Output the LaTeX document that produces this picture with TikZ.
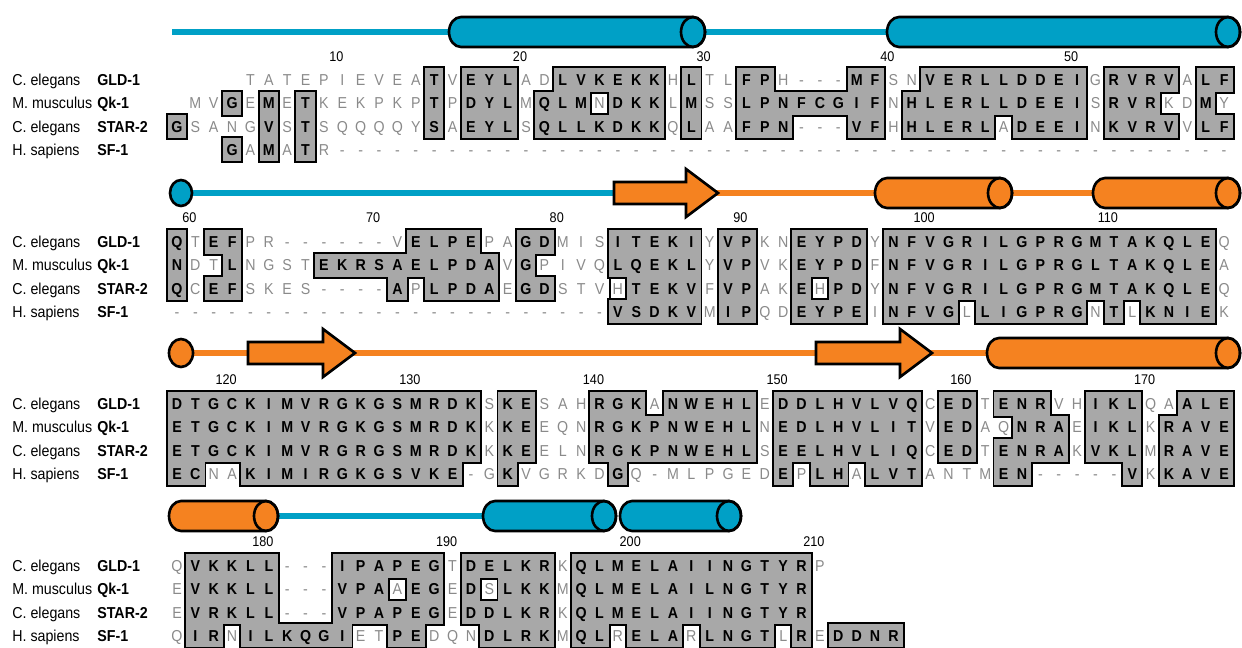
\documentclass[tikz,border=0pt]{standalone}
\usepackage{fontspec}
\setmainfont{Liberation Sans}[FakeStretch=0.9]
\definecolor{helixblue}{HTML}{00A0C6}
\definecolor{strandorange}{HTML}{F58220}
\definecolor{shadegrey}{HTML}{A8A8A8}
\definecolor{loosegrey}{HTML}{8A8A8A}

\tikzset{
  res/.style={font=\fontsize{9}{9}\selectfont\bfseries, inner sep=0pt, text height=6.5pt, text depth=0pt},
  loose/.style={font=\fontsize{9}{9}\selectfont, text=loosegrey, inner sep=0pt, text height=6.5pt, text depth=0pt},
  rim/.style={draw=black, line width=2.2pt},
  boxrim/.style={draw=black, line width=1.1pt},
  species/.style={font=\fontsize{9}{9}\selectfont, anchor=west, inner sep=0pt, text height=6.5pt, text depth=0pt},
  protein/.style={species, font=\fontsize{9}{9}\selectfont\bfseries},
  num/.style={font=\fontsize{8}{8}\selectfont, inner sep=0pt},
  helixline/.style={helixblue, line width=3pt},
  strandline/.style={strandorange, line width=3pt},
  ssrim/.style={draw=black, line width=1.5pt}
}

% one alignment row: id, y, residues (CAPS = boxed, small = plain, - = gap, . = empty)
\newcount\colno
\def\passno{0}
\newcommand\alignrow[3]{\colno=0 \def\rowid{#1}\def\rowy{#2}\readres#3\relax}
\def\readres#1{\ifx#1\relax\else\advance\colno by 1 \putres{#1}\expandafter\readres\fi}
\def\putres#1{%
  \ifnum`#1>96 \putlow{#1}\else
    \ifnum`#1>64 \putup{#1}\else
      \ifx#1-\putdash\fi
    \fi
  \fi}
\def\putup#1{%
  \pgfmathsetmacro\cx{177+(\the\colno-1)*18.37}%
  \ifcase\passno\relax
    \draw[rim] (\cx-9.185,\rowy-11.6) rectangle (\cx+9.185,\rowy+11.6);%
  \or
    \fill[shadegrey] (\cx-9.185,\rowy-11.6) rectangle (\cx+9.185,\rowy+11.6);%
  \or
    \node[res] (\rowid-\the\colno) at (\cx,\rowy) {#1};%
  \fi}
\def\putlow#1{%
  \ifnum\passno=2
    \pgfmathsetmacro\cx{177+(\the\colno-1)*18.37}%
    \node[loose] (\rowid-\the\colno) at (\cx,\rowy) {\uppercase{#1}};%
  \fi}
\def\putdash{%
  \ifnum\passno=2
    \pgfmathsetmacro\cx{177+(\the\colno-1)*18.37}%
    \node[loose] (\rowid-\the\colno) at (\cx,\rowy) {-};%
  \fi}

\newcommand\allrows{%
  % 1 - 58
  \alignrow{gldA}{80}{....tatepieveaTvEYLadLVKEKKhLtlFPh---MFsnVERLLDDEIgRVRVaLF}%
  \alignrow{qkA}{103.2}{.mvGeMeTkekpkpTpDYLmQLMnDKKlMssLPNFCGIFnHLERLLDEEIsRVRkdMy}%
  \alignrow{starA}{126.4}{GsangVsTsqqqqySaEYLsQLLKDKKqLaaFPN---VFhHLERLaDEEInKVRVvLF}%
  \alignrow{sfA}{149.6}{...GaMaTr-------------------------------------------------}%
  % 59 - 116
  \alignrow{gldB}{242}{QtEFpr------vELPEpaGDmisITEKIyVPknEYPDyNFVGRILGPRGMTAKQLEq}%
  \alignrow{qkB}{265.2}{NdtLngstEKRSAELPDAvGpivqLQEKLyVPvkEYPDfNFVGRILGPRGLTAKQLEa}%
  \alignrow{starB}{288.4}{QcEFskes----ApLPDAeGDstvhTEKVfVPakEhPDyNFVGRILGPRGMTAKQLEq}%
  \alignrow{sfB}{311.6}{------------------------VSDKVmIPqdEYPEiNFVGlLIGPRGnTlKNIEk}%
  % 117 - 174
  \alignrow{gldC}{404}{DTGCKIMVRGKGSMRDKsKEsahRGKaNWEHLeDDLHVLVQcEDtENRvhIKLqaALE}%
  \alignrow{qkC}{427.2}{ETGCKIMVRGKGSMRDKkKEeqnRGKPNWEHLnEDLHVLITvEDaqNRAeIKLkRAVE}%
  \alignrow{starC}{450.4}{ETGCKIMVRGRGSMRDKkKEelnRGKPNWEHLsEELHVLIQcEDtENRAkVKLmRAVE}%
  \alignrow{sfC}{473.6}{ECnaKIMIRGKGSVKE-gKvgrkdGq-mlpgedEpLHaLVTantmEN-----VkKAVE}%
  % 175 - 214
  \alignrow{gldD}{566}{qVKKLL---IPAPEGtDELKRkQLMELAIINGTYRp}%
  \alignrow{qkD}{589.2}{eVKKLL---VPAaEGeDsLKKmQLMELAILNGTYR}%
  \alignrow{starD}{612.4}{eVRKLL---VPAPEGeDDLKRkQLMELAIINGTYR}%
  \alignrow{sfD}{635.6}{qIRnILKQGIetPEdqnDLRKmQLrELArLNGTlReDDNR}%
}

% helix: colour, left end, cap centre, y
\newcommand\tube[4]{%
  \filldraw[fill=#1, ssrim] (#3,#4-15) -- (#2+12,#4-15)
    arc[start angle=270, end angle=90, x radius=12, y radius=15] -- (#3,#4+15)
    arc[start angle=90, end angle=-90, x radius=12, y radius=15] -- cycle;
  \draw[ssrim] (#3,#4) ellipse [x radius=12, y radius=15];}
% strand: left end, tip, y
\newcommand\strand[3]{%
  \filldraw[fill=strandorange, ssrim] (#1,#3-11) -- (#2-32,#3-11) -- (#2-32,#3-24)
    -- (#2,#3) -- (#2-32,#3+24) -- (#2-32,#3+11) -- (#1,#3+11) -- cycle;}

\begin{document}
\begin{tikzpicture}[x=0.02cm, y=-0.02cm]
  \useasboundingbox (0,0) rectangle (1242,647);

  % secondary structure
  \draw[helixline] (172,32) -- (449,32);
  \draw[helixline] (700,32) -- (887,32);
  \tube{helixblue}{449}{693}{32}
  \tube{helixblue}{887}{1228}{32}

  \draw[helixline] (181,193) -- (614,193);
  \draw[strandline] (716,193) -- (1093,193);
  \filldraw[fill=helixblue, ssrim] (181,193) ellipse [x radius=11, y radius=13];
  \strand{614}{718}{193}
  \tube{strandorange}{875}{1000}{193}
  \tube{strandorange}{1093}{1228}{193}

  \draw[strandline] (181,353) -- (987,353);
  \filldraw[fill=strandorange, ssrim] (181,353) ellipse [x radius=12, y radius=14];
  \strand{248}{355}{353}
  \strand{816}{932}{353}
  \tube{strandorange}{987}{1228}{353}

  \draw[helixline] (270,516) -- (483,516);
  \tube{strandorange}{169}{266}{516}
  \tube{helixblue}{483}{604}{516}
  \tube{helixblue}{620}{729}{516}

  % numbering
  \foreach \n in {10,20,...,50}
    \node[num] (num\n) at ({177+(\n-1)*18.37-6},57) {\n};
  \foreach \n in {60,70,...,110}
    \node[num] (num\n) at ({177+(\n-59)*18.37-6},218) {\n};
  \foreach \n in {120,130,...,170}
    \node[num] (num\n) at ({177+(\n-117)*18.37-6},380) {\n};
  \foreach \n in {180,190,...,210}
    \node[num] (num\n) at ({177+(\n-175)*18.37-6},542) {\n};

  % sequence names
  \foreach \y [count=\b] in {80,242,404,566}
    \foreach \sp/\pr/\dy [count=\k] in {C. elegans/GLD-1/0, M. musculus/Qk-1/23.2,
        C. elegans/STAR-2/46.4, H. sapiens/SF-1/69.6} {
      \node[species] (sp\b\k) at (12,\y+\dy) {\sp};
      \node[protein] (pr\b\k) at (97,\y+\dy) {\pr};
    }

  % alignment: rims, shading, boxed gaps, letters
  \def\passno{0}\allrows
  \def\passno{1}\allrows
  \foreach \c/\y in {24/103.2, 25/288.4, 36/288.4, 13/589.2, 18/589.2}
    \draw[boxrim] ({177+(\c-1)*18.37-8.2},\y-10.6) rectangle ({177+(\c-1)*18.37+8.2},\y+10.6);
  \def\passno{2}\allrows
\end{tikzpicture}
\end{document}
